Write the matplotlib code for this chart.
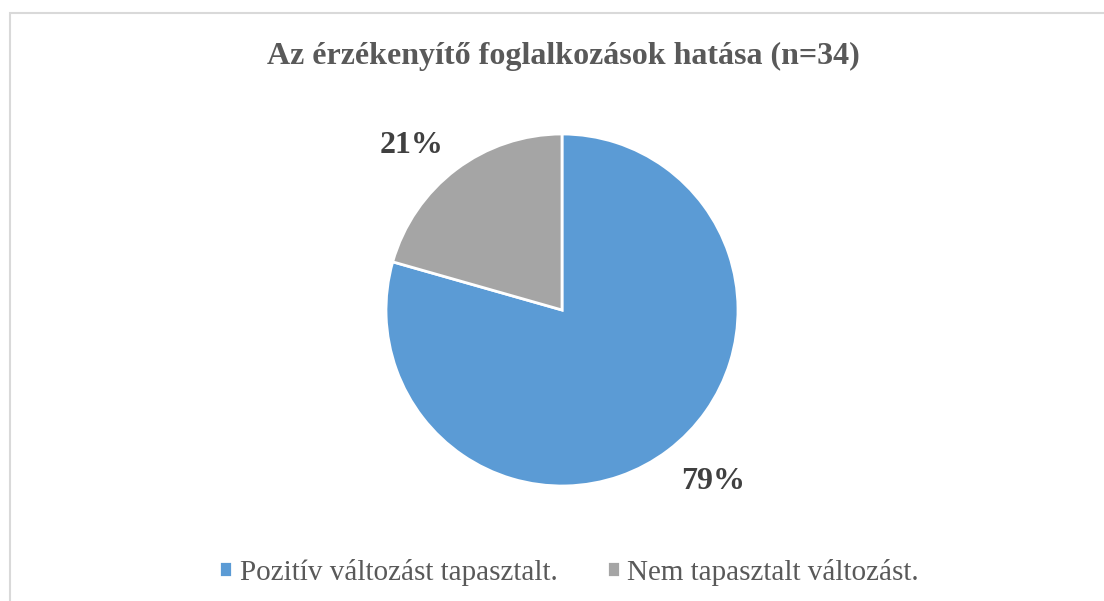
import numpy as np
import matplotlib.pyplot as plt
from matplotlib.patches import Rectangle

# Survey result: effect of the sensitisation sessions (n=34)
categories = ["Pozitív változást tapasztalt.", "Nem tapasztalt változást."]
counts = [27, 7]
colors = ["#5B9BD5", "#A5A5A5"]
title = "Az érzékenyítő foglalkozások hatása (n=34)"

plt.rcParams['font.family'] = ['Liberation Serif', 'DejaVu Serif']
text_color = "#595959"

fig = plt.figure(figsize=(11.04, 6.01), dpi=100)

# light grey chart-area frame (runs off the right/bottom edge like the original)
fig.patches.append(Rectangle((10 / 1104, -0.05), 1.2, 1 - 13 / 601 + 0.05,
                             transform=fig.transFigure, fill=False,
                             edgecolor="#D9D9D9", linewidth=1.5))

ax = fig.add_axes([(562 - 176) / 1104, (601 - 310 - 176) / 601, 352 / 1104, 352 / 601])
wedges, texts, autotexts = ax.pie(
    counts, colors=colors, startangle=90, counterclock=False,
    autopct=lambda p: f"{p:.0f}%", pctdistance=1.3,
    wedgeprops=dict(edgecolor="white", linewidth=2),
    textprops=dict(fontsize=23, fontweight="bold", color="#404040"),
)

# Excel-style "outside end" labels: the label's nearest corner sits just past the rim
for w, t in zip(wedges, autotexts):
    mid = np.deg2rad((w.theta1 + w.theta2) / 2)
    cx, cy = np.cos(mid), np.sin(mid)
    t.set_position((1.12 * cx, 1.12 * cy))
    t.set_ha("right" if cx < 0 else "left")
    t.set_va("baseline" if cy > 0 else "top")

ax.set_xlim(-1, 1)
ax.set_ylim(-1, 1)
ax.set_aspect("equal")

fig.text(563 / 1104, 1 - 56 / 601, title, ha="center", va="center",
         fontsize=23, fontweight="bold", color=text_color)

leg = fig.legend(wedges, categories, loc="center", bbox_to_anchor=(569 / 1104, 1 - 572 / 601),
                 ncol=2, frameon=False, fontsize=21, handlelength=0.45, handleheight=0.45,
                 handletextpad=0.25, columnspacing=1.7)
for t in leg.get_texts():
    t.set_color(text_color)

fig.savefig("out.png", dpi=100)
